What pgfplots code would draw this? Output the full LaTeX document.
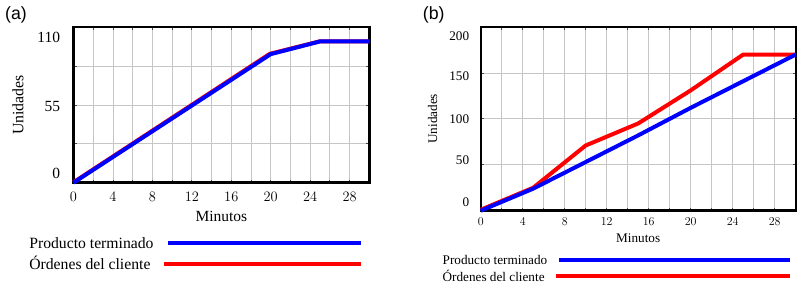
\documentclass[border=0pt]{standalone}
\usepackage{pgfplots}
\pgfplotsset{compat=1.18}
\usepackage{fontspec}
\setmainfont{Liberation Serif}
\newfontfamily\arialfont{Liberation Sans}
\definecolor{vblue}{RGB}{0,0,255}
\definecolor{vred}{RGB}{255,0,0}
\pgfplotsset{
  legA1/.style={legend image code/.code={\draw[##1] (0pt,0pt) -- (192.6pt,0pt);}},
  legA2/.style={legend image code/.code={\draw[##1] (-4.4pt,0pt) -- (192.6pt,0pt);}},
  legB1/.style={legend image code/.code={\draw[##1] (0pt,0pt) -- (230.6pt,0pt);}},
  legB2/.style={legend image code/.code={\draw[##1] (-3.4pt,0pt) -- (230.6pt,0pt);}},
}
\begin{document}
\begin{tikzpicture}
\useasboundingbox (0pt,0pt) rectangle (800pt,286pt);
\pgfplotsset{
  vensim/.style={
    scale only axis,
    xmin=0, xmax=30, ymin=0,
    xtick={0,4,...,28},
    minor x tick num=1,
    grid=both,
    grid style={draw=gray!45, line width=0.8pt},
    minor grid style={draw=gray!45, line width=0.8pt},
    axis line style={line width=2.4pt, black},
    tick align=inside,
    major tick length=3pt, minor tick length=3pt,
    every tick/.style={black!70, line width=0.8pt},
    xticklabel style={anchor=north, inner sep=0pt},
    yticklabel style={anchor=east, inner sep=0pt},
    legend plot pos=right,
    legend cell align=left,
    clip=false,
  }
}
% ---------------- Panel (a) ----------------
\begin{axis}[vensim,
  at={(73.5pt,103.3pt)}, anchor=south west,
  width=295.8pt, height=155.4pt,
  ymax=110,
  ytick={0,55,110},
  minor y tick num=1,
  yticklabels={\raisebox{4.16pt}[0pt][0pt]{0},\raisebox{-6.04pt}[0pt][0pt]{55},\raisebox{-15.24pt}[0pt][0pt]{110}},
  xticklabel style={yshift=-9.6pt},
  yticklabel style={xshift=-13.2pt},
  tick label style={font=\fontsize{15.5}{18}\selectfont},
  every axis x label/.style={at={(axis description cs:0.5,-0.22)}, anchor=center, font=\fontsize{15.5}{18}\selectfont},
  every axis y label/.style={at={(axis description cs:-0.1876,0.5)}, rotate=90, anchor=center, font=\fontsize{15.8}{18}\selectfont},
  xlabel={Minutos}, ylabel={Unidades},
  legend style={at={(axis description cs:-0.1494,-0.3494)}, anchor=north west,
    draw=none, fill=none, inner sep=0pt, outer sep=0pt,
    row sep=7.3pt, column sep=8.3pt,
    nodes={inner sep=0pt, text height=12pt, text depth=1pt, font=\fontsize{15.7}{18}\selectfont}},
]
\addlegendimage{legA1, vblue, line width=4pt}
\addlegendentry{Producto terminado}
\addlegendimage{legA2, vred, line width=4pt}
\addlegendentry{Órdenes del cliente}
\addplot[vred, line width=4pt, forget plot] coordinates {(0,0.3) (19.9,91.2) (25,100.1) (30,100.1)};
\addplot[vblue, line width=4pt, forget plot] coordinates {(0,0) (20,91) (25,100) (30,100)};
\end{axis}
\node[anchor=west, inner sep=0pt, font=\arialfont\fontsize{17.7}{20}\selectfont] at (5pt,271pt) {(a)};
% ---------------- Panel (b) ----------------
\begin{axis}[vensim,
  at={(480.7pt,75.3pt)}, anchor=south west,
  width=315pt, height=183.7pt,
  ymax=200,
  ytick={0,50,100,150,200},
  yticklabels={\raisebox{4.04pt}[0pt][0pt]{0},\raisebox{-0.16pt}[0pt][0pt]{50},\raisebox{-4.46pt}[0pt][0pt]{100},\raisebox{-7.36pt}[0pt][0pt]{150},\raisebox{-13.26pt}[0pt][0pt]{200}},
  xticklabel style={yshift=-6.6pt},
  yticklabel style={xshift=-11.4pt},
  tick label style={font=\fontsize{13.2}{15}\selectfont},
  every axis x label/.style={at={(axis description cs:0.5,-0.150)}, anchor=center, font=\fontsize{13.2}{15}\selectfont},
  every axis y label/.style={at={(axis description cs:-0.153,0.5)}, rotate=90, anchor=center, font=\fontsize{13.2}{15}\selectfont},
  xlabel={Minutos}, ylabel={Unidades},
  legend style={at={(axis description cs:-0.1206,-0.2384)}, anchor=north west,
    draw=none, fill=none, inner sep=0pt, outer sep=0pt,
    row sep=5pt, column sep=6.6pt,
    nodes={inner sep=0pt, text height=10.5pt, text depth=0.8pt, font=\fontsize{13.2}{15}\selectfont}},
]
\addlegendimage{legB1, vblue, line width=4pt}
\addlegendentry{Producto terminado}
\addlegendimage{legB2, vred, line width=4pt}
\addlegendentry{Órdenes del cliente}
\addplot[vred, line width=4pt, forget plot] coordinates {(0,1) (5,25) (10,71) (15,95) (20,131) (25,170) (30,170)};
\addplot[vblue, line width=4pt, forget plot] coordinates {(0,0) (5,24) (10,53) (15,82) (20,112) (25,141) (30,170)};
\end{axis}
\node[anchor=west, inner sep=0pt, font=\arialfont\fontsize{17.7}{20}\selectfont] at (422.7pt,270.7pt) {(b)};
\end{tikzpicture}
\end{document}
